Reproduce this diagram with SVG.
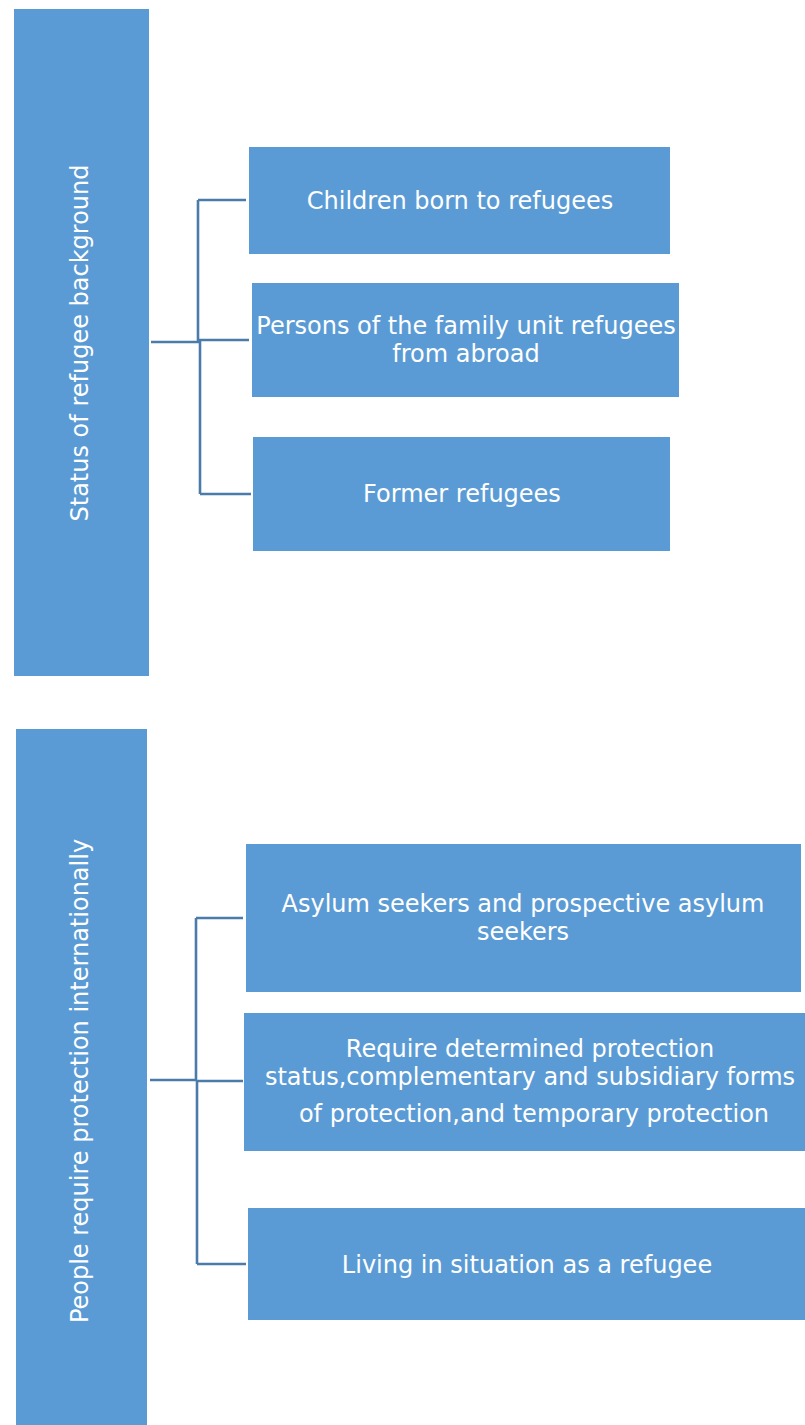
<svg xmlns="http://www.w3.org/2000/svg" width="805" height="1425" viewBox="0 0 805 1425">
<style>
.box{fill:#5b9bd5;}
.t{font-family:"DejaVu Sans",sans-serif;font-size:24px;fill:#ffffff;text-anchor:middle;}
.c{fill:none;stroke:#4a7bab;stroke-width:2.6;}
</style>
<rect width="805" height="1425" fill="#ffffff"/>
<g id="connectors">
<path class="c" d="M151,342 H200 M198,200 V342 M200,340 V494 M198,200 H246 M198,340 H249 M200,494 H251"/>
<path class="c" d="M150,1080 H197 M196,918 V1081 M197,1080 V1264 M196,918 H243 M196,1081 H243 M197,1264 H246"/>
</g>
<g id="status">
<rect class="box" x="14" y="9" width="135" height="667"/>
<text class="t" transform="translate(80,343) rotate(-90)" dy="0.35em">Status of refugee background</text>
</g>
<g id="children">
<rect class="box" x="249" y="147" width="421" height="107"/>
<text class="t" x="460" y="209">Children born to refugees</text>
</g>
<g id="persons">
<rect class="box" x="252" y="283" width="427" height="114"/>
<text class="t" x="466" y="334">Persons of the family unit refugees</text>
<text class="t" x="466" y="362">from abroad</text>
</g>
<g id="former">
<rect class="box" x="253" y="437" width="417" height="114"/>
<text class="t" x="462" y="502">Former refugees</text>
</g>
<g id="people">
<rect class="box" x="16" y="729" width="131" height="696"/>
<text class="t" transform="translate(80,1081) rotate(-90)" dy="0.35em">People require protection internationally</text>
</g>
<g id="asylum">
<rect class="box" x="246" y="844" width="555" height="148"/>
<text class="t" x="523" y="912">Asylum seekers and prospective asylum</text>
<text class="t" x="523" y="940">seekers</text>
</g>
<g id="require">
<rect class="box" x="244" y="1013" width="561" height="138"/>
<text class="t" x="530" y="1057">Require determined protection</text>
<text class="t" x="530" y="1085">status,complementary and subsidiary forms</text>
<text class="t" x="534" y="1122">of protection,and temporary protection</text>
</g>
<g id="living">
<rect class="box" x="248" y="1208" width="557" height="112"/>
<text class="t" x="527" y="1273">Living in situation as a refugee</text>
</g>
</svg>
